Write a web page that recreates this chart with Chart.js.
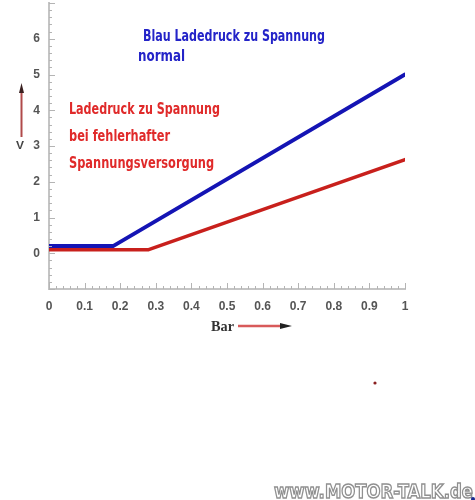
<!DOCTYPE html>
<html>
<head>
<meta charset="utf-8">
<script src="https://cdn.jsdelivr.net/npm/chart.js@4"></script>
<style>
  html, body { margin: 0; padding: 0; background: #fff; }
  #wrap { position: relative; width: 475px; height: 500px; overflow: hidden; }
  canvas { position: absolute; left: 0; top: 0; }
  .note { position: absolute; white-space: nowrap; transform-origin: 0 0; font-family: "DejaVu Sans Condensed", "DejaVu Sans", sans-serif; font-weight: bold; line-height: 1; }
  .blue { color: #2424c8; }
  .red { color: #e02a2a; }
  #wm { position: absolute; white-space: nowrap; transform-origin: 0 0; font-family: "DejaVu Sans", sans-serif; font-weight: bold; font-size: 20px; line-height: 1; color: #fff; -webkit-text-stroke: 1.5px #909090; }
</style>
</head>
<body>
<div id="wrap">
  <canvas id="c" width="475" height="500"></canvas>
  <div class="note blue" data-x="143" data-base="40" data-w="182" style="font-size:16px">Blau Ladedruck zu Spannung</div>
  <div class="note blue" data-x="138" data-base="60" data-w="47" style="font-size:16px">normal</div>
  <div class="note red" data-x="69" data-base="113" data-w="151" style="font-size:16px">Ladedruck zu Spannung</div>
  <div class="note red" data-x="69" data-base="140" data-w="101" style="font-size:16px">bei fehlerhafter</div>
  <div class="note red" data-x="69" data-base="167" data-w="145" style="font-size:16px">Spannungsversorgung</div>
  <div class="note" data-x="16" data-base="149" data-w="8" style="font-size:11px;color:#444;font-family:'Liberation Sans',sans-serif;">V</div>
  <div class="note" data-x="211" data-base="331" data-w="23" style="font-size:15px;color:#333;font-family:'Liberation Serif',serif;">Bar</div>
  <div id="wm" data-x="274" data-base="497" data-w="199">www.MOTOR-TALK.de</div>
  <svg width="475" height="500" style="position:absolute;left:0;top:0;pointer-events:none">
    <line x1="21.5" y1="92" x2="21.5" y2="137" stroke="#b04a4a" stroke-width="2"/>
    <polygon points="21.5,83 19,93 24,93" fill="#3a2020"/>
    <line x1="238" y1="326" x2="282" y2="326" stroke="#d85a5a" stroke-width="2.5"/>
    <polygon points="292,326 280,323 280,329" fill="#222"/>
    <circle cx="375" cy="383" r="1.6" fill="#8a2020"/>
    <circle cx="473" cy="499" r="2" fill="#1a2a90"/>
  </svg>
</div>
<script>
// ---- data ----
const blueX = [0, 0.18, 1];
const blueY = [0.2, 0.2, 5.0];
const redX = [0, 0.28, 1];
const redY = [0.1, 0.1, 2.62];
const xTickLabels = ['0', '0.1', '0.2', '0.3', '0.4', '0.5', '0.6', '0.7', '0.8', '0.9', '1'];
const yTickLabels = ['0', '1', '2', '3', '4', '5', '6'];

function pts(xs, ys) { return xs.map((x, i) => ({ x: x, y: ys[i] })); }

const minorTicks = {
  id: 'minorTicks',
  afterDraw(chart) {
    const ctx = chart.ctx;
    const xs = chart.scales.x, ys = chart.scales.y;
    const ca = chart.chartArea;
    ctx.save();
    ctx.strokeStyle = '#b4b4b4';
    ctx.lineWidth = 1;
    ctx.beginPath();
    for (let i = 0; i <= 50; i++) {
      const px = Math.round(xs.getPixelForValue(i / 50)) + 0.5;
      const len = (i % 5 === 0) ? 6 : 3;
      ctx.moveTo(px, ca.bottom);
      ctx.lineTo(px, ca.bottom - len);
    }
    for (let i = -5; i <= 35; i++) {
      const py = Math.round(ys.getPixelForValue(i / 5)) + 0.5;
      const len = (i % 5 === 0) ? 6 : 3;
      ctx.moveTo(ca.left, py);
      ctx.lineTo(ca.left + len, py);
    }
    ctx.stroke();
    ctx.restore();
  }
};

new Chart(document.getElementById('c'), {
  type: 'line',
  data: {
    datasets: [
      { data: pts(redX, redY), borderColor: '#c8201c', borderWidth: 3.5, pointRadius: 0, borderCapStyle: 'round', borderJoinStyle: 'round', tension: 0 },
      { data: pts(blueX, blueY), borderColor: '#1414b4', borderWidth: 4, pointRadius: 0, borderCapStyle: 'round', borderJoinStyle: 'round', tension: 0 }
    ]
  },
  options: {
    responsive: false,
    animation: false,
    devicePixelRatio: 1,
    layout: { padding: { left: 0, right: 70, top: 3, bottom: 0 } },
    plugins: { legend: { display: false }, tooltip: { enabled: false } },
    scales: {
      x: {
        type: 'linear', min: 0, max: 1,
        afterFit(s) { s.height = 211; s.paddingLeft = 0; s.paddingRight = 0; },
        grid: { display: true, drawOnChartArea: false, drawTicks: false },
        border: { display: true, color: '#c4c4c4', width: 2 },
        ticks: {
          stepSize: 0.1, autoSkip: false, maxRotation: 0, padding: 10,
          color: '#555', font: { family: 'Liberation Sans', weight: 'bold', size: 12 },
          callback(v) { const i = Math.round(v * 10); return xTickLabels[i] !== undefined ? xTickLabels[i] : ''; }
        }
      },
      y: {
        type: 'linear', min: -1, max: 7,
        afterFit(s) { s.width = 49; s.paddingTop = 0; s.paddingBottom = 0; },
        grid: { display: true, drawOnChartArea: false, drawTicks: false },
        border: { display: true, color: '#c4c4c4', width: 2 },
        ticks: {
          stepSize: 1, autoSkip: false, padding: 9,
          color: '#555', font: { family: 'Liberation Sans', weight: 'bold', size: 12 },
          callback(v) { const i = Math.round(v); return yTickLabels[i] !== undefined ? yTickLabels[i] : ''; }
        }
      }
    }
  },
  plugins: [minorTicks]
});

// position overlay texts by baseline and target width
document.querySelectorAll('[data-x]').forEach(el => {
  const fs = parseFloat(getComputedStyle(el).fontSize);
  const w = el.getBoundingClientRect().width;
  const sx = parseFloat(el.dataset.w) / w;
  el.style.left = el.dataset.x + 'px';
  el.style.top = (parseFloat(el.dataset.base) - fs * 0.78) + 'px';
  el.style.transform = 'scaleX(' + sx.toFixed(3) + ')';
});
</script>
</body>
</html>
